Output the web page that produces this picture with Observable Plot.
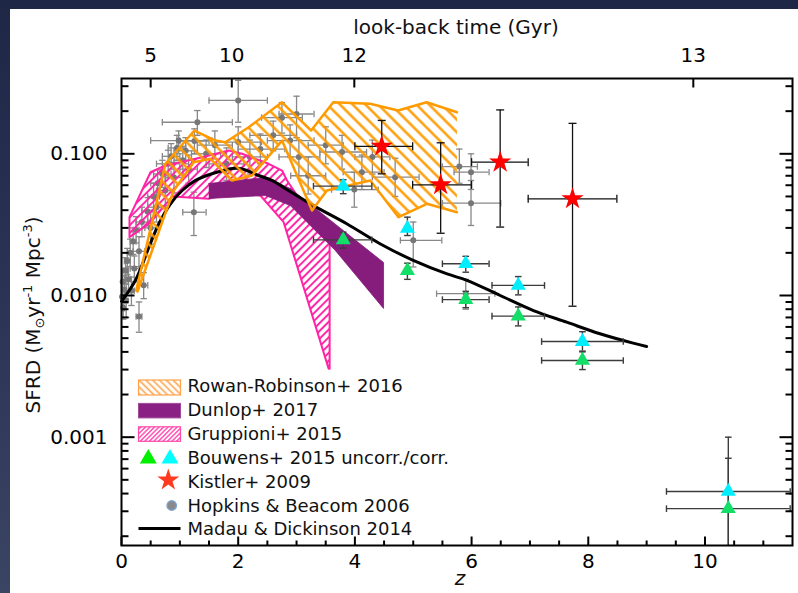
<!DOCTYPE html>
<html><head><meta charset="utf-8">
<script src="https://cdn.jsdelivr.net/npm/d3@7"></script>
<script src="https://cdn.jsdelivr.net/npm/@observablehq/plot@0.6"></script>
<style>
html,body{margin:0;padding:0;}
body{width:798px;height:593px;overflow:hidden;position:relative;background:linear-gradient(180deg,#1f2747 0%,#2b3454 50%,#3a4463 100%);}
#panel{position:absolute;left:10px;top:9px;right:0;bottom:0;background:#fff;}
#chart{position:absolute;left:0;top:0;}
</style></head><body><div id="panel"></div><div id="chart"></div>
<script>
const mdZ    = [0, 0.24, 0.47, 0.64, 0.84, 1.04, 1.27, 1.55, 1.90, 2.07, 2.35, 2.58, 2.86, 3.29, 3.86, 4.43, 5.0, 5.58, 5.92, 6.49, 7.06, 7.63, 8.20, 8.77, 9.0];
const mdSFRD = [0.0091, 0.0128, 0.0219, 0.0321, 0.0444, 0.0551, 0.0649, 0.0723, 0.0788, 0.0782, 0.0703, 0.0649, 0.0551, 0.0431, 0.0321, 0.0232, 0.0177, 0.0142, 0.0128, 0.0100, 0.00783, 0.00648, 0.00537, 0.00461, 0.00437];
const hbZ = [0.01,0.02,0.03,0.05,0.07,0.08,0.10,0.12,0.15,0.17,0.20,0.22,0.25,0.30,0.30,0.35,0.38,0.45,0.50,0.55,0.60,0.62,0.70,0.75,0.80,0.85,0.90,0.95,0.98,1.05,1.10,1.15,1.24,1.25,1.30,1.45,1.60,1.80,2.00,2.00,2.20,2.38,2.60,2.75,2.89,3.00,3.04,3.20,3.50,3.78,3.99,4.12,4.30,4.69,5.00,5.79,5.99,5.99,5.90];
const hbSFRD = [0.0098,0.0125,0.0082,0.0110,0.0150,0.0092,0.0175,0.0130,0.0200,0.0108,0.0240,0.0155,0.0290,0.0071,0.0205,0.0330,0.0118,0.0390,0.0300,0.0500,0.0420,0.0620,0.0720,0.0550,0.0850,0.0960,0.0680,0.1100,0.1240,0.0900,0.1050,0.0780,0.0387,0.1230,0.1670,0.1000,0.1150,0.0850,0.2380,0.1210,0.0950,0.1080,0.1350,0.1800,0.1240,0.1910,0.0950,0.0700,0.1150,0.1030,0.0559,0.0742,0.0950,0.0684,0.0245,0.0813,0.0742,0.0448,0.0103];
const hbZlo = [0,0,0.01,0.02,0.04,0.05,0.05,0.08,0.10,0.12,0.15,0.15,0.20,0.25,0.20,0.25,0.30,0.35,0.40,0.45,0.45,0.50,0.55,0.60,0.60,0.70,0.75,0.80,0.50,0.90,0.90,1.00,1.05,1.00,0.70,1.20,1.30,1.50,1.50,1.60,1.90,2.00,2.20,2.40,2.50,2.70,2.70,2.90,3.20,3.40,3.60,3.80,4.00,4.30,4.78,5.50,5.70,5.50,5.40];
const hbZhi = [0.03,0.05,0.05,0.08,0.10,0.11,0.15,0.16,0.20,0.22,0.25,0.30,0.30,0.35,0.40,0.45,0.45,0.55,0.60,0.65,0.75,0.75,0.85,0.90,1.00,1.00,1.05,1.10,1.55,1.20,1.30,1.30,1.45,1.50,1.90,1.70,1.90,2.10,2.50,2.40,2.50,2.80,3.00,3.10,3.30,3.30,3.40,3.50,3.80,4.20,4.40,4.50,4.60,5.10,5.49,6.10,6.30,6.50,6.40];
const hbLo = [0.0078,0.0100,0.0068,0.0088,0.0122,0.0070,0.0140,0.0105,0.0160,0.0085,0.0195,0.0125,0.0235,0.0055,0.0160,0.0260,0.0095,0.0310,0.0230,0.0400,0.0330,0.0500,0.0580,0.0430,0.0680,0.0780,0.0530,0.0900,0.1000,0.0720,0.0850,0.0620,0.0265,0.1000,0.1350,0.0800,0.0920,0.0650,0.1670,0.0950,0.0720,0.0850,0.1050,0.1400,0.0950,0.1300,0.0700,0.0520,0.0850,0.0780,0.0420,0.0560,0.0720,0.0500,0.0159,0.0620,0.0560,0.0312,0.0080];
const hbHi = [0.0122,0.0155,0.0099,0.0138,0.0185,0.0120,0.0215,0.0160,0.0250,0.0135,0.0300,0.0190,0.0360,0.0090,0.0260,0.0420,0.0145,0.0490,0.0390,0.0620,0.0530,0.0770,0.0900,0.0700,0.1060,0.1180,0.0870,0.1350,0.1450,0.1130,0.1300,0.0980,0.0536,0.1500,0.2020,0.1250,0.1450,0.1100,0.3300,0.1550,0.1250,0.1380,0.1700,0.2300,0.1600,0.2550,0.1250,0.0950,0.1550,0.1350,0.0740,0.0980,0.1250,0.0930,0.0330,0.1080,0.1000,0.0648,0.0130];
const bwZ    = [3.8, 4.9, 5.9, 6.8, 7.9, 10.4];
const bwZlo  = [3.29, 4.9, 5.50, 6.35, 7.20, 9.34];
const bwZhi  = [4.29, 4.9, 6.30, 7.25, 8.60, 11.46];
const bwCorr   = [0.0591, 0.0297, 0.01675, 0.01178, 0.00473, 0.000414];
const bwCorrLo = [0.0523, 0.0265, 0.0146, 0.0101, 0.00405, 0.00005];
const bwCorrHi = [0.0656, 0.0357, 0.0189, 0.0136, 0.00555, 0.0010];
const bwUnc    = [0.0247, 0.0150, 0.00935, 0.00715, 0.00348, 0.000313];
const bwUncLo  = [0.0216, 0.0130, 0.0082, 0.0061, 0.0030, 0.00005];
const bwUncHi  = [0.0280, 0.0169, 0.0107, 0.0083, 0.0040, 0.00071];
const kiZ    = [4.46, 5.47, 6.49, 7.73];
const kiZlo  = [4.00, 4.99, 6.00, 6.97];
const kiZhi  = [4.99, 6.00, 6.97, 8.49];
const kiSFRD = [0.113, 0.0604, 0.0873, 0.0481];
const kiLo   = [0.0722, 0.0275, 0.0304, 0.0084];
const kiHi   = [0.172, 0.1196, 0.204, 0.164];
const rrUpZ = [0.252, 0.50, 0.753, 0.925, 1.25, 1.61, 1.78, 2.18, 2.75, 3.25, 3.63, 4.26, 4.74, 5.23, 5.75];
const rrUpV = [0.01085, 0.030, 0.085, 0.1026, 0.146, 0.124, 0.1207, 0.154, 0.231, 0.146, 0.231, 0.2254, 0.202, 0.231, 0.1966];
const rrLoZ = [0.274, 0.497, 0.75, 0.896, 1.238, 1.524, 1.896, 2.238, 2.752, 3.265, 3.52, 4.264, 4.748, 5.235, 5.748];
const rrLoV = [0.01067, 0.0193, 0.0379, 0.0551, 0.0873, 0.0922, 0.0648, 0.0703, 0.124, 0.0398, 0.0551, 0.0648, 0.0357, 0.0444, 0.0387];
const duUpZ = [1.495, 2.466, 2.894, 4.491];
const duUpV = [0.0617, 0.0681, 0.0569, 0.0171];
const duLoZ = [1.495, 2.466, 2.894, 3.664, 4.491];
const duLoV = [0.0484, 0.0508, 0.0431, 0.0208, 0.0081];
const grUpZ = [0.137, 0.497, 0.753, 1.382, 1.837, 2.067, 2.522, 2.752, 2.837, 3.567, 3.567];
const grUpV = [0.0357, 0.0741, 0.0827, 0.0946, 0.1055, 0.100, 0.085, 0.0762, 0.0648, 0.0232, 0.00304];
const grLoZ = [0.137, 0.497, 0.868, 1.495, 1.896, 2.38, 2.779, 3.55];
const grLoV = [0.0258, 0.0327, 0.050, 0.0481, 0.0533, 0.0508, 0.0329, 0.00304];
const xMajorTicks = [0, 2, 4, 6, 8, 10];
const xMinorTicks = [0.5, 1, 1.5, 2.5, 3, 3.5, 4.5, 5, 5.5, 6.5, 7, 7.5, 8.5, 9, 9.5, 10.5, 11];
const yMajorTicks = [0.001, 0.01, 0.1];
const yMinorTicks = [0.0002,0.0003,0.0004,0.0005,0.0006,0.0007,0.0008,0.0009,0.002,0.003,0.004,0.005,0.006,0.007,0.008,0.009,0.02,0.03,0.04,0.05,0.06,0.07,0.08,0.09,0.2,0.3];
const lookbackZ = [0.50, 1.89, 3.99, 9.80];
const lookbackLabels = ["5", "10", "12", "13"];
const legendLabels = ["Rowan-Robinson+ 2016", "Dunlop+ 2017", "Gruppioni+ 2015", "Bouwens+ 2015 uncorr./corr.", "Kistler+ 2009", "Hopkins & Beacom 2006", "Madau & Dickinson 2014"];

const pts = (Z, V) => Z.map((z, i) => ({z, v: V[i]}));
const md = pts(mdZ, mdSFRD);
const hb = hbZ.map((z, i) => ({z, v: hbSFRD[i], z1: hbZlo[i], z2: hbZhi[i], lo: hbLo[i], hi: hbHi[i]}));
const bwC = bwZ.map((z, i) => ({z, v: bwCorr[i], z1: bwZlo[i], z2: bwZhi[i], lo: bwCorrLo[i], hi: bwCorrHi[i]}));
const bwU = bwZ.map((z, i) => ({z, v: bwUnc[i], z1: bwZlo[i], z2: bwZhi[i], lo: bwUncLo[i], hi: bwUncHi[i]}));
const ki = kiZ.map((z, i) => ({z, v: kiSFRD[i], z1: kiZlo[i], z2: kiZhi[i], lo: kiLo[i], hi: kiHi[i]}));
const rrPoly = [...pts(rrLoZ, rrLoV).reverse(), ...pts(rrUpZ, rrUpV)];
const duPoly = [...pts(duUpZ, duUpV), ...pts(duLoZ, duLoV).reverse()];
const grUp = pts(grUpZ, grUpV);
const grPoly = [...grUp, ...pts(grLoZ, grLoV).reverse(), grUp[0]];

const capH = w => ({draw(c) { c.moveTo(-w, 0); c.lineTo(w, 0); }});
const capV = w => ({draw(c) { c.moveTo(0, -w); c.lineTo(0, w); }});
function errorBars(data, color, sw, cw) {
  const xs = data.filter(d => d.z2 > d.z1);
  return [
    Plot.ruleY(xs, {x1: "z1", x2: "z2", y: "v", stroke: color, strokeWidth: sw, clip: true}),
    Plot.ruleX(data, {x: "z", y1: "lo", y2: "hi", stroke: color, strokeWidth: sw, clip: true}),
    Plot.dot(xs, {x: "z1", y: "v", symbol: capV(cw), fill: "none", stroke: color, strokeWidth: sw, clip: true}),
    Plot.dot(xs, {x: "z2", y: "v", symbol: capV(cw), fill: "none", stroke: color, strokeWidth: sw, clip: true}),
    Plot.dot(data, {x: "z", y: "lo", symbol: capH(cw), fill: "none", stroke: color, strokeWidth: sw, clip: true}),
    Plot.dot(data, {x: "z", y: "hi", symbol: capH(cw), fill: "none", stroke: color, strokeWidth: sw, clip: true})
  ];
}

// inward axis ticks: rules from the axis edge to a value a few pixels inside, via the scale's inverse
const W = 798, H = 593, ML = 121, MR = 6, MT = 78, MB = 48;
const X0 = 0, X1 = 11.5, Y0 = 0.000172, Y1 = 0.34;
const xs = d3.scaleLinear([X0, X1], [ML, W - MR]);
const ys = d3.scaleLog([Y0, Y1], [H - MB, MT]);
const tickRows = [];
xMinorTicks.forEach(v => tickRows.push({x1: v, x2: v, y1: Y0, y2: ys.invert(H - MB - 5)}));
xMajorTicks.forEach(v => tickRows.push({x1: v, x2: v, y1: Y0, y2: ys.invert(H - MB - 9)}));
lookbackZ.forEach(v => tickRows.push({x1: v, x2: v, y1: Y1, y2: ys.invert(MT + 9)}));
yMinorTicks.forEach(v => { tickRows.push({x1: X0, x2: xs.invert(ML + 7), y1: v, y2: v}); tickRows.push({x1: X1, x2: xs.invert(W - MR - 7), y1: v, y2: v}); });
yMajorTicks.forEach(v => { tickRows.push({x1: X0, x2: xs.invert(ML + 13), y1: v, y2: v}); tickRows.push({x1: X1, x2: xs.invert(W - MR - 13), y1: v, y2: v}); });

const ORANGE = "#ff9a00", PINK = "#ff24a6", PURPLE = "#861c7c";
const GREEN = "#12de68", CYAN = "#00eefc";

const svg = Plot.plot({
  width: W, height: H,
  marginLeft: ML, marginRight: MR, marginTop: MT, marginBottom: MB,
  style: {background: "transparent", fontFamily: "DejaVu Sans", fontSize: "20px", color: "black"},
  x: {domain: [X0, X1], label: null},
  y: {type: "log", domain: [Y0, Y1], label: null},
  marks: [
    ...errorBars(hb, "#888888", 1.3, 3.2),
    Plot.dot(hb, {x: "z", y: "v", r: 3, fill: "#777777"}),
    Plot.line(grPoly, {x: "z", y: "v", fill: "url(#hatchPink)", stroke: PINK, strokeWidth: 2}),
    Plot.line(duPoly, {x: "z", y: "v", fill: PURPLE, stroke: PURPLE, strokeWidth: 0.8}),
    Plot.line(md, {x: "z", y: "v", stroke: "black", strokeWidth: 3, curve: "catmull-rom"}),
    Plot.line(rrPoly, {x: "z", y: "v", fill: "url(#hatchOrange)", stroke: ORANGE, strokeWidth: 2.5}),
    ...errorBars(bwC, "#3c3c3c", 1.4, 3.3),
    ...errorBars(bwU, "#3c3c3c", 1.4, 3.3),
    Plot.dot(bwC, {x: "z", y: "v", symbol: "triangle", r: 5.6, fill: CYAN, clip: true}),
    Plot.dot(bwU, {x: "z", y: "v", symbol: "triangle", r: 5.6, fill: GREEN, clip: true}),
    ...errorBars(ki, "#111", 1.3, 4),
    Plot.dot(ki, {x: "z", y: "v", symbol: "star", r: 7, fill: "#ff0000"}),
    Plot.link(tickRows, {x1: "x1", x2: "x2", y1: "y1", y2: "y2", stroke: "black", strokeWidth: 2}),
    Plot.frame({stroke: "black", strokeWidth: 2}),
    Plot.axisX(xMajorTicks, {anchor: "bottom", tickSize: 0, tickPadding: 8, fontSize: 20}),
    Plot.axisX(lookbackZ, {anchor: "top", tickSize: 0, tickPadding: 17, fontSize: 20,
      tickFormat: d => lookbackLabels[lookbackZ.indexOf(d)]}),
    Plot.axisY(yMajorTicks, {anchor: "left", tickSize: 0, tickPadding: 14, fontSize: 20, tickFormat: d3.format(".3f")})
  ]
});
document.getElementById("chart").appendChild(svg);

const root = d3.select(svg);
const defs = root.insert("defs", ":first-child");
function hatch(id, size, angle, color, width) {
  const p = defs.append("pattern").attr("id", id).attr("patternUnits", "userSpaceOnUse")
    .attr("width", size).attr("height", size).attr("patternTransform", `rotate(${angle})`);
  p.append("line").attr("x1", size / 2).attr("y1", -1).attr("x2", size / 2).attr("y2", size + 1)
    .attr("stroke", color).attr("stroke-width", width);
}
hatch("hatchOrange", 9, -45, ORANGE, 2.4);
hatch("hatchPink", 5.5, 45, PINK, 2);
hatch("legOrange", 4.8, -45, "#ffa24a", 1.6);
hatch("legPink", 3.2, 45, "#ff3aa8", 1.3);

root.append("text").attr("x", 456).attr("y", 34).attr("text-anchor", "middle")
  .attr("font-family", "DejaVu Sans").attr("font-size", 20).attr("fill", "#111").text("look-back time (Gyr)");
root.append("text").attr("x", 460).attr("y", 585).attr("text-anchor", "middle")
  .attr("font-family", "DejaVu Sans").attr("font-style", "italic").attr("font-size", 20).attr("fill", "#111").text("z");
const yl = root.append("text").attr("transform", "translate(40,315) rotate(-90)").attr("text-anchor", "middle")
  .attr("font-family", "DejaVu Sans").attr("font-size", 20).attr("fill", "#111");
yl.append("tspan").text("SFRD (M");
yl.append("tspan").attr("font-size", 13).attr("dy", 4).text("⊙");
yl.append("tspan").attr("dy", -4).text("yr");
yl.append("tspan").attr("font-size", 13).attr("dy", -8).text("-1");
yl.append("tspan").attr("dy", 8).text(" Mpc");
yl.append("tspan").attr("font-size", 13).attr("dy", -8).text("-3");
yl.append("tspan").attr("dy", 8).text(")");

const lg = root.append("g").attr("font-family", "DejaVu Sans").attr("font-size", 18).attr("fill", "#111").attr("text-anchor", "start");
const base0 = 392, step = 23.9;
legendLabels.forEach((t, i) => lg.append("text").attr("x", 187.5).attr("y", base0 + i * step).attr("text-anchor", "start").text(t));
const b = i => base0 + i * step;
lg.append("rect").attr("x", 138.5).attr("y", b(0) - 12).attr("width", 42).attr("height", 15)
  .attr("fill", "url(#legOrange)").attr("stroke", "#ffa24a").attr("stroke-width", 1.2);
lg.append("rect").attr("x", 138.5).attr("y", b(1) - 12.5).attr("width", 42).attr("height", 14.5)
  .attr("fill", "#8a2084").attr("stroke", "#a04a9a").attr("stroke-width", 1);
lg.append("rect").attr("x", 138.5).attr("y", b(2) - 13).attr("width", 42).attr("height", 14.5)
  .attr("fill", "url(#legPink)").attr("stroke", "#ff4aaa").attr("stroke-width", 1.2);
const tri = d3.symbol().type(d3.symbolTriangle).size(125)();
lg.append("path").attr("d", tri).attr("transform", `translate(148.3,${b(3) - 5})`).attr("fill", "#00f000");
lg.append("path").attr("d", tri).attr("transform", `translate(170,${b(3) - 5})`).attr("fill", "#00ffff");
lg.append("path").attr("d", d3.symbol().type(d3.symbolStar).size(150)()).attr("transform", `translate(168.3,${b(4) - 7.5})`).attr("fill", "#ff3a1e");
lg.append("circle").attr("cx", 171.7).attr("cy", b(5) - 6).attr("r", 4.8).attr("fill", "#8a8a8a").attr("stroke", "#7aa7d6").attr("stroke-width", 1.2);
lg.append("line").attr("x1", 138.5).attr("x2", 180.5).attr("y1", b(6) - 7).attr("y2", b(6) - 7).attr("stroke", "black").attr("stroke-width", 3);
</script></body></html>
